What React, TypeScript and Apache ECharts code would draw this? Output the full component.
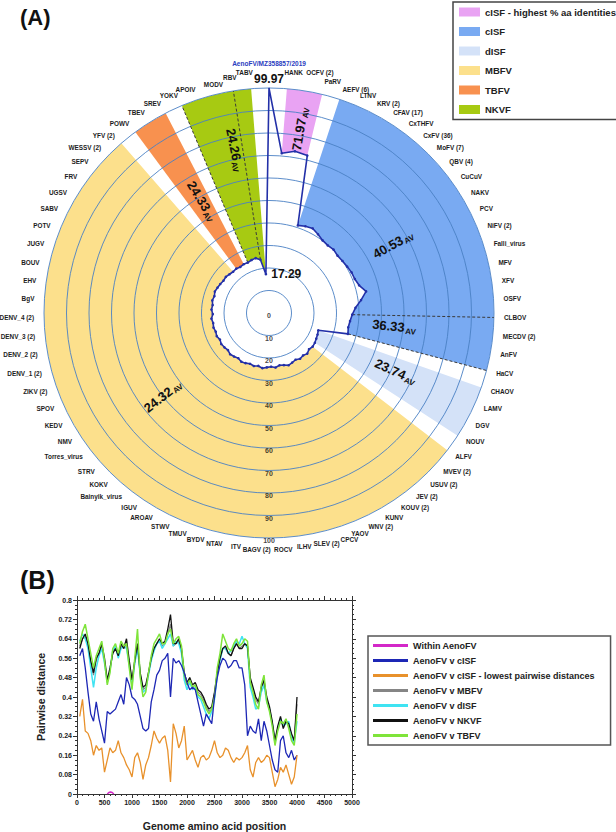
import React, { useEffect, useRef } from 'react';
import * as echarts from 'echarts';

// ---------------- Panel A data ----------------
const viruses = ['AenoFV/MZ358857/2019','HANK','OCFV (2)','PaRV','AEFV (6)','LTNV','KRV (2)','CFAV (17)','CxTHFV','CxFV (36)','MoFV (7)','QBV (4)','CuCuV','NAKV','PCV','NiFV (2)','Falli_virus','MFV','XFV','OSFV','CLBOV','MECDV (2)','AnFV','HaCV','CHAOV','LAMV','DGV','NOUV','ALFV','MVEV (2)','USUV (2)','JEV (2)','KOUV (2)','KUNV','WNV (2)','YAOV','CPCV','SLEV (2)','ILHV','ROCV','BAGV (2)','ITV','NTAV','BYDV','TMUV','STWV','AROAV','IGUV','Bainyik_virus','KOKV','STRV','Torres_virus','NMV','KEDV','SPOV','ZIKV (2)','DENV_1 (2)','DENV_2 (2)','DENV_3 (2)','DENV_4 (2)','BgV','EHV','BOUV','JUGV','POTV','SABV','UGSV','FRV','SEPV','WESSV (2)','YFV (2)','POWV','TBEV','SREV','YOKV','APOIV','MODV','RBV','TABV'];

const identities = [99.97,71.2,72.8,72.0,41.0,41.8,42.3,41.2,40.1,39.8,40.2,39.7,40.0,40.4,40.9,41.0,41.9,44.2,41.3,38.5,37.0,36.2,35.8,36.3,23.2,23.6,23.9,24.3,24.5,24.0,24.8,24.2,24.6,23.9,24.3,24.8,24.1,23.7,24.4,23.9,24.2,24.7,24.0,24.5,24.1,24.6,24.9,24.3,24.8,25.2,24.6,25.0,25.3,24.8,25.4,25.1,25.5,25.2,25.7,25.0,25.6,25.3,25.8,25.4,25.9,25.5,25.2,24.8,25.0,24.6,24.3,24.5,24.1,24.4,24.3,24.8,25.1,24.0,17.29];

const groupHighestCisf = ['HANK','OCFV (2)','PaRV'];
const groupCisf = ['AEFV (6)','LTNV','KRV (2)','CFAV (17)','CxTHFV','CxFV (36)','MoFV (7)','QBV (4)','CuCuV','NAKV','PCV','NiFV (2)','Falli_virus','MFV','XFV','OSFV','CLBOV','MECDV (2)','AnFV','HaCV'];
const groupDisf = ['CHAOV','LAMV','DGV','NOUV'];
const groupMbfv = ['ALFV','MVEV (2)','USUV (2)','JEV (2)','KOUV (2)','KUNV','WNV (2)','YAOV','CPCV','SLEV (2)','ILHV','ROCV','BAGV (2)','ITV','NTAV','BYDV','TMUV','STWV','AROAV','IGUV','Bainyik_virus','KOKV','STRV','Torres_virus','NMV','KEDV','SPOV','ZIKV (2)','DENV_1 (2)','DENV_2 (2)','DENV_3 (2)','DENV_4 (2)','BgV','EHV','BOUV','JUGV','POTV','SABV','UGSV','FRV','SEPV','WESSV (2)','YFV (2)'];
const groupTbfv = ['POWV','TBEV','SREV'];
const groupNkvf = ['YOKV','APOIV','MODV','RBV','TABV'];

const subgroupBorders = ['YOKV','RBV','CLBOV','HaCV'];

const averageTexts = ['71.97','40.53','36.33','23.74','24.32','24.33','24.26'];
// layout of the average annotations: [angle position (category units), radius]
const averageSpots = [[2.1,83],[13.4,63],[21.1,56],[25.2,62],[50.9,60],[72.2,58],[76.4,74]];

const ringValues = [10,20,30,40,50,60,70,80,90,100];

// layout tweaks of single angle labels: [side alignment, extra shift in px, line height]
const labelTweaks: Record<string, [string, number, number]> = {
  'TABV': ['center', -6, 13],
  'HANK': ['center', 6, 12],
  'OCFV (2)': ['left', 0, 17],
  'PaRV': ['left', 0, 6],
  'RBV': ['center', -2, 7],
  'CPCV': ['left', 7, 1],
  'SLEV (2)': ['left', -2, 1],
  'ILHV': ['left', 0, 1],
  'ROCV': ['center', 5, 4],
  'BAGV (2)': ['center', -3, 4],
  'ITV': ['right', 0, 1],
  'NTAV': ['right', 0, 1],
  'BYDV': ['right', 0, 1],
};

// ---------------- Panel B data ----------------
const positions = [50,100,150,200,250,300,350,400,450,500,550,600,650,700,750,800,850,900,950,1000,1050,1100,1150,1200,1250,1300,1350,1400,1450,1500,1550,1600,1650,1700,1750,1800,1850,1900,1950,2000,2050,2100,2150,2200,2250,2300,2350,2400,2450,2500,2550,2600,2650,2700,2750,2800,2850,2900,2950,3000,3050,3100,3150,3200,3250,3300,3350,3400,3450,3500,3550,3600,3650,3700,3750,3800,3850,3900,3950,4000];
const withinAenoPos = [550,580,610,640,670];
const withinAeno = [0.0,0.006,0.008,0.006,0.0];
const vsCisf = [.57,.60,.52,.42,.33,.30,.38,.31,.26,.21,.34,.33,.34,.35,.38,.41,.37,.48,.45,.40,.39,.37,.32,.27,.26,.27,.38,.43,.49,.51,.55,.56,.58,.40,.56,.54,.55,.53,.50,.46,.43,.44,.43,.38,.33,.28,.33,.31,.29,.40,.48,.53,.56,.55,.52,.53,.55,.55,.52,.52,.45,.24,.28,.26,.25,.31,.22,.30,.26,.20,.14,.10,.09,.22,.24,.17,.15,.18,.14,.16];
const vsCisfLowest = [.32,.39,.26,.25,.22,.16,.20,.18,.19,.09,.14,.19,.17,.18,.22,.17,.15,.12,.10,.07,.15,.17,.13,.06,.12,.15,.20,.26,.23,.21,.23,.24,.18,.05,.29,.25,.19,.22,.28,.14,.16,.18,.14,.11,.15,.16,.14,.15,.18,.22,.17,.15,.16,.19,.18,.15,.13,.15,.14,.15,.17,.20,.10,.07,.13,.15,.13,.14,.16,.15,.09,.03,.06,.11,.09,.12,.08,.04,.07,.16];
const vsMbfv = [.61,.64,.65,.61,.54,.49,.55,.58,.61,.55,.46,.51,.58,.60,.57,.61,.60,.62,.54,.46,.54,.61,.49,.43,.44,.50,.56,.60,.62,.63,.61,.62,.66,.70,.61,.62,.63,.59,.49,.45,.47,.44,.45,.42,.41,.39,.36,.34,.35,.41,.50,.56,.60,.60,.58,.57,.60,.62,.60,.61,.62,.61,.47,.43,.39,.37,.44,.46,.39,.35,.29,.22,.27,.31,.28,.30,.28,.24,.22,.37];
const vsDisf = [.63,.66,.64,.60,.52,.44,.52,.57,.60,.54,.46,.51,.59,.61,.56,.60,.61,.60,.53,.45,.54,.60,.49,.42,.43,.49,.55,.59,.62,.63,.60,.62,.64,.66,.61,.63,.62,.58,.47,.43,.46,.43,.44,.40,.39,.36,.33,.31,.34,.39,.49,.55,.60,.60,.58,.59,.61,.63,.62,.65,.62,.60,.44,.40,.35,.36,.42,.45,.38,.35,.29,.21,.27,.31,.28,.29,.30,.23,.21,.30];
const vsNkvf = [.60,.64,.66,.62,.55,.50,.56,.58,.62,.56,.47,.52,.58,.60,.57,.62,.60,.64,.55,.47,.55,.62,.50,.44,.45,.50,.56,.60,.62,.64,.62,.63,.68,.74,.62,.62,.64,.60,.50,.46,.48,.45,.46,.43,.42,.40,.37,.35,.36,.42,.50,.56,.60,.61,.58,.57,.60,.62,.60,.60,.62,.61,.48,.44,.40,.38,.44,.47,.40,.36,.30,.22,.28,.32,.27,.30,.29,.25,.22,.40];
const vsTbfv = [.62,.67,.70,.64,.58,.52,.57,.60,.63,.55,.45,.50,.60,.62,.58,.63,.61,.62,.52,.43,.56,.68,.48,.40,.42,.50,.57,.62,.64,.66,.62,.62,.66,.68,.62,.64,.65,.61,.49,.45,.47,.44,.45,.41,.40,.38,.35,.33,.35,.40,.52,.58,.66,.63,.60,.59,.62,.64,.61,.62,.64,.63,.46,.42,.37,.35,.45,.49,.38,.34,.28,.20,.26,.30,.29,.31,.27,.22,.20,.33];

const FONT = "'Liberation Sans', Arial, Helvetica, sans-serif";
const ANGLE_FONT_SIZE = 6.4;

const groupDefs = [
  { name: 'cISF - highest % aa identities', members: groupHighestCisf, color: '#e9a3f3' },
  { name: 'cISF', members: groupCisf, color: '#79aaf2' },
  { name: 'dISF', members: groupDisf, color: '#d4e2f8' },
  { name: 'MBFV', members: groupMbfv, color: '#fce08c' },
  { name: 'TBFV', members: groupTbfv, color: '#f8914f' },
  { name: 'NKVF', members: groupNkvf, color: '#a7ca12' },
];

const idx = (name: string) => viruses.indexOf(name);

let measureCtx: CanvasRenderingContext2D | null = null;
function textWidth(t: string): number {
  if (!measureCtx) {
    const c = document.createElement('canvas');
    measureCtx = c.getContext('2d');
  }
  if (!measureCtx) return t.length * ANGLE_FONT_SIZE * 0.6;
  measureCtx.font = 'bold ' + ANGLE_FONT_SIZE + 'px ' + FONT;
  return measureCtx.measureText(t).width;
}

function buildOption(): any {
  const N = viruses.length;
  const series: any[] = [];

  groupDefs.forEach((g) => {
    series.push({
      name: g.name,
      type: 'line',
      coordinateSystem: 'polar',
      polarIndex: 0,
      color: g.color,
      data: g.members.map((m) => [identities[idx(m)], idx(m)]),
      symbol: 'none',
      lineStyle: { width: 0, color: g.color },
      areaStyle: { color: g.color, opacity: 1, origin: 'end' },
      silent: true,
      z: 2,
    });
  });

  subgroupBorders.forEach((m) => {
    series.push({
      type: 'line',
      coordinateSystem: 'polar',
      polarIndex: 0,
      data: [[identities[idx(m)], idx(m)], [100, idx(m)]],
      symbol: 'none',
      lineStyle: { width: 1, type: [3, 2], color: '#3a3a3a' },
      silent: true,
      z: 4,
    });
  });

  const mainData: any[] = identities.map((v, i) => {
    if (i === 0) {
      return {
        value: [v, i],
        symbol: 'circle',
        symbolSize: 1,
        label: {
          show: true,
          position: 'top',
          distance: 2,
          formatter: '{a|' + viruses[0] + '}\n{b|' + v.toFixed(2) + '}',
          rich: {
            a: { fontSize: 6.5, fontWeight: 'bold', color: '#2a3cc0', lineHeight: 17, fontFamily: FONT, align: 'center' },
            b: { fontSize: 12, fontWeight: 'bold', color: '#111', lineHeight: 14, fontFamily: FONT, align: 'center' },
          },
        },
      };
    }
    if (i === N - 1) {
      return {
        value: [v, i],
        label: {
          show: true,
          position: 'right',
          distance: 4,
          offset: [0, 3],
          formatter: v.toFixed(2),
          fontSize: 12,
          fontWeight: 'bold',
          color: '#111',
          fontFamily: FONT,
        },
      };
    }
    return [v, i];
  });
  mainData.push({ value: [identities[0], N], symbol: 'none' });

  series.push({
    type: 'line',
    coordinateSystem: 'polar',
    polarIndex: 0,
    data: mainData,
    symbol: 'circle',
    symbolSize: 2.6,
    showAllSymbol: true,
    itemStyle: { color: '#2330a8' },
    lineStyle: { width: 1.6, color: '#2330a8' },
    labelLayout: { hideOverlap: false },
    silent: true,
    z: 6,
  });

  // average annotations
  series.push({
    type: 'custom',
    coordinateSystem: 'polar',
    polarIndex: 0,
    data: averageSpots.map((s) => [s[1], s[0]]),
    encode: { radius: 0, angle: 1 },
    silent: true,
    z: 7,
    renderItem: (params: any, api: any) => {
      const r = api.value(0);
      const a = api.value(1);
      const p = api.coord([r, a]);
      const theta = (a * 360) / N;
      const rotDeg = theta < 180 ? 90 - theta : 270 - theta;
      return {
        type: 'text',
        x: p[0],
        y: p[1],
        rotation: (rotDeg * Math.PI) / 180,
        style: {
          text: '{n|' + averageTexts[params.dataIndex] + '}{s|AV}',
          align: 'center',
          verticalAlign: 'middle',
          rich: {
            n: { fontSize: 13, fontWeight: 'bold', fill: '#111', fontFamily: FONT },
            s: { fontSize: 8, fontWeight: 'bold', fill: '#111', fontFamily: FONT, padding: [7, 0, 0, 1] },
          },
        },
      };
    },
  });

  // ring labels
  series.push({
    type: 'scatter',
    coordinateSystem: 'polar',
    polarIndex: 0,
    data: [[0, 0]].concat(ringValues.map((v) => [v, N / 2])),
    symbolSize: 0.01,
    silent: true,
    z: 8,
    label: {
      show: true,
      formatter: (p: any) => String(p.value[0]),
      position: 'bottom',
      distance: -1,
      fontSize: 7,
      fontWeight: 'bold',
      color: '#111',
      fontFamily: FONT,
    },
  });

  // Panel B
  const pb = (name: string, vals: number[], color: string, width: number, z: number) => ({
    name,
    type: 'line',
    xAxisIndex: 0,
    yAxisIndex: 0,
    data: positions.map((x, i) => [x, vals[i]]),
    symbol: 'none',
    color,
    lineStyle: { width, color },
    z,
  });

  series.push({
    name: 'Within AenoFV', type: 'line', xAxisIndex: 0, yAxisIndex: 0,
    data: withinAenoPos.map((x, i) => [x, withinAeno[i]]), symbol: 'none', color: '#d327c8',
    lineStyle: { width: 1.5, color: '#d327c8' }, z: 9,
  });
  series.push(pb('AenoFV v MBFV', vsMbfv, '#858585', 1.2, 3));
  series.push(pb('AenoFV v dISF', vsDisf, '#3fe3f2', 1.5, 4));
  series.push(pb('AenoFV v NKVF', vsNkvf, '#111111', 1.3, 5));
  series.push(pb('AenoFV v TBFV', vsTbfv, '#7fe43a', 1.5, 6));
  series.push(pb('AenoFV v cISF', vsCisf, '#1d27b5', 1.3, 7));
  series.push(pb('AenoFV v cISF - lowest pairwise distances', vsCisfLowest, '#e8912b', 1.3, 8));

  // angle label styling
  const angleLabelFont = { fontSize: ANGLE_FONT_SIZE, fontWeight: 'bold', color: '#1c1c1c', fontFamily: FONT };
  const rich: Record<string, any> = {};
  const tweakKey: Record<string, string> = {};
  Object.keys(labelTweaks).forEach((name, k) => {
    const [side, extra, lh] = labelTweaks[name];
    let dx = extra;
    if (side === 'left') dx += textWidth(name) / 2;
    else if (side === 'right') dx -= textWidth(name) / 2;
    const key = 't' + k;
    tweakKey[name] = key;
    rich[key] = {
      ...angleLabelFont,
      lineHeight: lh,
      padding: dx >= 0 ? [0, 0, 0, 2 * dx] : [0, -2 * dx, 0, 0],
    };
  });

  const labelFormatter = (v: number) => {
    const i = Math.round(v);
    if (i <= 0 || i >= N) return '';
    const name = viruses[i];
    if (tweakKey[name]) return '{' + tweakKey[name] + '|' + name + '}';
    return name;
  };

  const tickOpts = (show: boolean) => ({
    axisLine: { show: true, onZero: false, lineStyle: { color: '#333', width: 1 } },
    axisTick: { show: true, length: 4, lineStyle: { color: '#333' } },
    minorTick: { show: true, splitNumber: 5, length: 2, lineStyle: { color: '#333' } },
    splitLine: { show: false },
    axisLabel: show
      ? { fontSize: 7, fontWeight: 'bold', color: '#222', fontFamily: FONT }
      : { show: false },
  });

  return {
    animation: false,
    textStyle: { fontFamily: FONT },
    title: [
      { text: '(A)', left: 15, top: 1, textStyle: { fontSize: 22, fontWeight: 'bold', color: '#111', fontFamily: FONT } },
      { text: '(B)', left: 15, top: 562, textStyle: { fontSize: 25, fontWeight: 'bold', color: '#111', fontFamily: FONT } },
    ],
    legend: [
      {
        data: groupDefs.map((g) => g.name),
        left: 453,
        top: 2,
        orient: 'vertical',
        icon: 'rect',
        itemWidth: 21,
        itemHeight: 9,
        itemGap: 9.5,
        padding: [5, 12, 5, 6],
        borderColor: '#444',
        borderWidth: 1.5,
        selectedMode: false,
        textStyle: { fontSize: 9.5, fontWeight: 'bold', color: '#222', fontFamily: FONT },
      },
      {
        data: ['Within AenoFV', 'AenoFV v cISF', 'AenoFV v cISF - lowest pairwise distances', 'AenoFV v MBFV', 'AenoFV v dISF', 'AenoFV v NKVF', 'AenoFV v TBFV'],
        left: 368,
        top: 636,
        orient: 'vertical',
        icon: 'rect',
        itemWidth: 35,
        itemHeight: 3,
        itemGap: 6,
        padding: [5, 16, 5, 5],
        borderColor: '#555',
        borderWidth: 1.5,
        selectedMode: false,
        textStyle: { fontSize: 9, fontWeight: 'bold', color: '#222', fontFamily: FONT },
      },
    ],
    polar: [{ center: [269, 313], radius: 225 }],
    angleAxis: [{
      polarIndex: 0,
      type: 'value',
      min: 0,
      max: N,
      interval: 1,
      startAngle: 90,
      clockwise: true,
      axisLine: { show: false },
      axisTick: { show: false },
      splitLine: { show: false },
      axisLabel: {
        show: true,
        margin: 10,
        ...angleLabelFont,
        lineHeight: 1,
        formatter: labelFormatter,
        rich,
      },
      z: 1,
    }],
    radiusAxis: [{
      polarIndex: 0,
      type: 'value',
      min: 0,
      max: 100,
      interval: 10,
      axisLine: { show: false },
      axisTick: { show: false },
      axisLabel: { show: false },
      splitLine: { show: true, lineStyle: { color: '#4a80c4', width: 0.9 } },
      z: 3,
    }],
    grid: [{ left: 77, top: 600, width: 275, height: 196, containLabel: false }],
    xAxis: [
      {
        type: 'value', gridIndex: 0, min: 0, max: 5000, interval: 500, position: 'bottom',
        name: 'Genome amino acid position', nameLocation: 'middle', nameGap: 26,
        nameTextStyle: { fontSize: 10.5, fontWeight: 'bold', color: '#222', fontFamily: FONT },
        ...tickOpts(true),
        axisLabel: { fontSize: 7, fontWeight: 'bold', color: '#222', margin: 5, fontFamily: FONT, formatter: (v: number) => String(v) },
      },
      { type: 'value', gridIndex: 0, min: 0, max: 5000, interval: 500, position: 'top', ...tickOpts(false) },
    ],
    yAxis: [
      {
        type: 'value', gridIndex: 0, min: 0, max: 0.8, interval: 0.08, position: 'left',
        name: 'Pairwise distance', nameLocation: 'middle', nameGap: 31,
        nameTextStyle: { fontSize: 10.5, fontWeight: 'bold', color: '#222', fontFamily: FONT },
        ...tickOpts(true),
        minorTick: { show: true, splitNumber: 4, length: 2, lineStyle: { color: '#333' } },
        axisLabel: { fontSize: 7, fontWeight: 'bold', color: '#222', margin: 5, fontFamily: FONT, formatter: (v: number) => String(+v.toFixed(2)) },
      },
      {
        type: 'value', gridIndex: 0, min: 0, max: 0.8, interval: 0.08, position: 'right', ...tickOpts(false),
        minorTick: { show: true, splitNumber: 4, length: 2, lineStyle: { color: '#333' } },
      },
    ],
    series,
  };
}

export default function App() {
  const ref = useRef<HTMLDivElement>(null);
  useEffect(() => {
    if (!ref.current) return;
    const chart = echarts.init(ref.current, undefined, { renderer: 'svg' });
    chart.setOption(buildOption());
    return () => chart.dispose();
  }, []);
  return (
    <div
      ref={ref}
      style={{ position: 'absolute', left: 0, top: 0, width: 616, height: 832, background: '#fff' }}
    />
  );
}
